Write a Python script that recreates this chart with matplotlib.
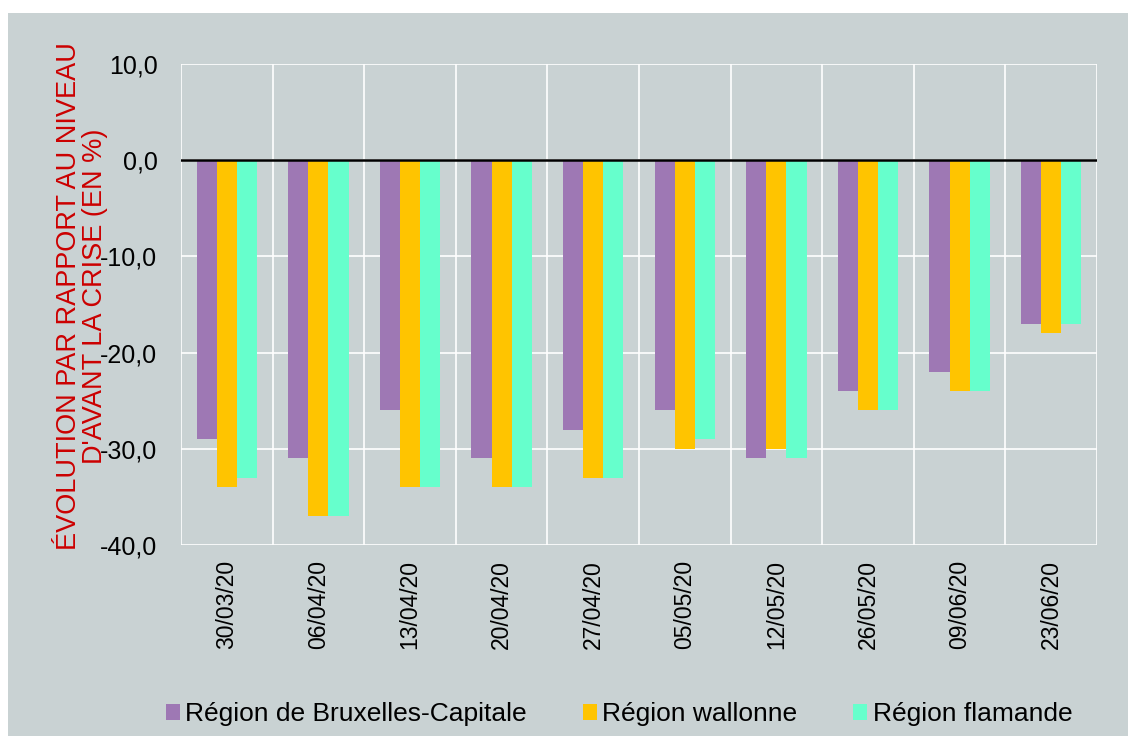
import numpy as np
import matplotlib
matplotlib.use("Agg")
import matplotlib.pyplot as plt

plt.rcParams["font.family"] = ["Liberation Sans", "DejaVu Sans"]

dates = ["30/03/20", "06/04/20", "13/04/20", "20/04/20", "27/04/20",
         "05/05/20", "12/05/20", "26/05/20", "09/06/20", "23/06/20"]
bruxelles = [-29, -31, -26, -31, -28, -26, -31, -24, -22, -17]
wallonie = [-34, -37, -34, -34, -33, -30, -30, -26, -24, -18]
flandre = [-33, -37, -34, -34, -33, -29, -31, -26, -24, -17]

series = [
    ("Région de Bruxelles-Capitale", bruxelles, "#9e78b4"),
    ("Région wallonne", wallonie, "#ffc400"),
    ("Région flamande", flandre, "#66ffcc"),
]

BG = "#c9d2d3"
W, H = 1134, 736

fig = plt.figure(figsize=(W / 100, H / 100), dpi=100, facecolor="white")
# grey panel behind everything
fig.patches.append(plt.Rectangle((8 / W, 0), 1120 / W, 1 - 13 / H,
                                 transform=fig.transFigure, facecolor=BG,
                                 edgecolor="none", zorder=-10))

ax = fig.add_axes([181 / W, 1 - 545 / H, 916 / W, 481 / H])
ax.set_facecolor(BG)

x = np.arange(len(dates))
w = 0.22
for i, (name, vals, col) in enumerate(series):
    ax.bar(x + (i - 1) * w, vals, width=w, color=col, label=name, zorder=3)

yt = np.arange(-40, 11, 10)
ax.set_xlim(-0.5, len(dates) - 0.5)
ax.set_ylim(-40, 10)
ax.set_yticks(yt)
ax.set_yticklabels([f"{v:.1f}".replace(".", ",") for v in yt])
ax.set_xticks(x)
ax.set_xticklabels(dates, rotation=90)

# white grid: horizontal at ticks, vertical at category boundaries
for y in yt:
    ax.axhline(y, color="white", lw=1.2, zorder=1)
for b in np.arange(-0.5, len(dates), 1):
    ax.axvline(b, color="white", lw=1.2, zorder=1)
ax.axhline(0, color="black", lw=1.8, zorder=4)

for s in ax.spines.values():
    s.set_visible(False)
ax.tick_params(axis="both", length=0, colors="black")
ax.tick_params(axis="x", labelsize=16.5, pad=11)
ax.tick_params(axis="y", labelsize=18, pad=17)

fig.text(82 / W, 1 - 296 / H,
         "ÉVOLUTION PAR RAPPORT AU NIVEAU\nD'AVANT LA CRISE (EN %)",
         rotation=90, ha="center", va="center", multialignment="center",
         color="#cc0000", fontsize=19.5, linespacing=1.04)

fig.legend(loc="center", bbox_to_anchor=(619 / W, 1 - 714 / H), ncol=3,
           frameon=False, fontsize=19, handlelength=0.55, handleheight=0.55,
           handletextpad=0.2, columnspacing=2.1, borderpad=0)

fig.savefig("out.png", dpi=100, facecolor="white")
